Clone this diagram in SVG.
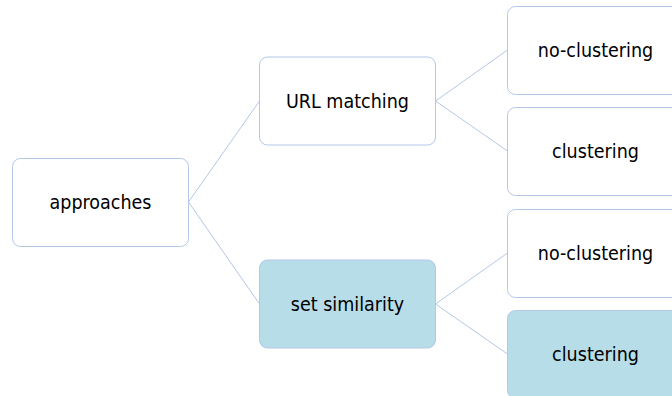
<svg xmlns="http://www.w3.org/2000/svg" width="672" height="396" viewBox="0 0 672 396">
  <style>
    .box { fill: #ffffff; stroke: #b4c7e7; stroke-width: 1; }
    .hl { fill: #b7dde8; }
    .lbl { font-family: "DejaVu Sans Condensed", "DejaVu Sans", Tahoma, sans-serif; font-stretch: condensed; font-size: 19.5px; fill: #000000; text-anchor: middle; dominant-baseline: central; }
    .link { stroke: #b4c7e7; stroke-width: 1; fill: none; }
  </style>
  <rect width="672" height="396" fill="#ffffff"/>
  <g id="connectors">
    <path class="link" d="M188.5 202 L259.5 101"/>
    <path class="link" d="M188.5 202 L259.5 304"/>
    <path class="link" d="M435.5 101 L507.5 50"/>
    <path class="link" d="M435.5 101 L507.5 151"/>
    <path class="link" d="M435.5 304 L507.5 253"/>
    <path class="link" d="M435.5 304 L507.5 354"/>
  </g>
  <g id="approaches">
    <rect class="box" x="12.5" y="158.5" width="176" height="88" rx="8"/>
    <text class="lbl" x="100.5" y="202.5">approaches</text>
  </g>
  <g id="url-matching">
    <rect class="box" x="259.5" y="57" width="176" height="88" rx="8"/>
    <text class="lbl" x="347.5" y="101">URL matching</text>
  </g>
  <g id="set-similarity">
    <rect class="box hl" x="259.5" y="260" width="176" height="88" rx="8"/>
    <text class="lbl" x="347.5" y="304">set similarity</text>
  </g>
  <g id="url-no-clustering">
    <rect class="box" x="507.5" y="6.5" width="176" height="88" rx="8"/>
    <text class="lbl" x="595.5" y="50">no-clustering</text>
  </g>
  <g id="url-clustering">
    <rect class="box" x="507.5" y="107.5" width="176" height="88" rx="8"/>
    <text class="lbl" x="595.5" y="151">clustering</text>
  </g>
  <g id="set-no-clustering">
    <rect class="box" x="507.5" y="209.5" width="176" height="88" rx="8"/>
    <text class="lbl" x="595.5" y="253">no-clustering</text>
  </g>
  <g id="set-clustering">
    <rect class="box hl" x="507.5" y="310.5" width="176" height="88" rx="8"/>
    <text class="lbl" x="595.5" y="354">clustering</text>
  </g>
</svg>
